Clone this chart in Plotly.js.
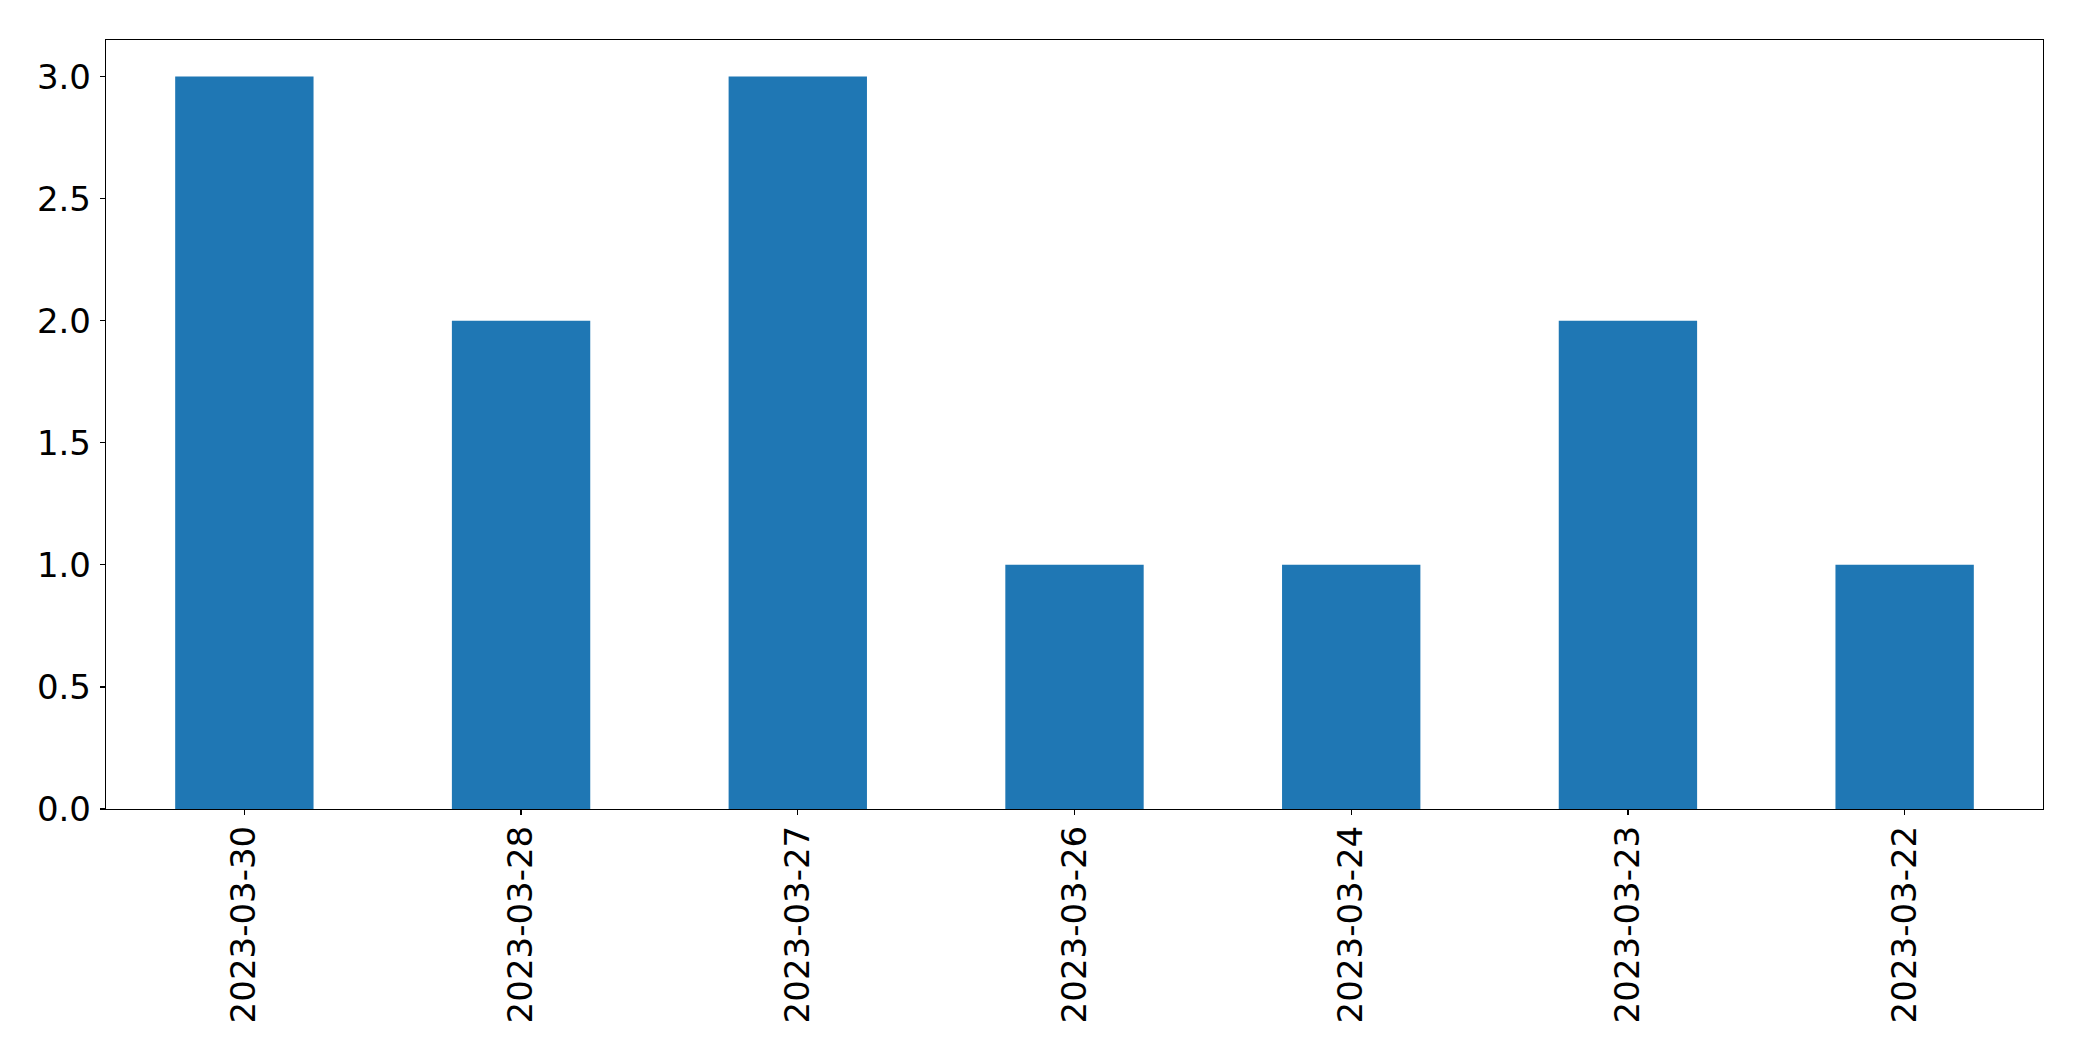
<!DOCTYPE html>
<html>
<head>
<meta charset="utf-8">
<script src="https://cdn.plot.ly/plotly-3.0.1.min.js"></script>
<style>html,body{margin:0;padding:0;background:#fff;}#chart{width:2082px;height:1061px;}</style>
</head>
<body>
<div id="chart"></div>
<script>
const categories = ["2023-03-30", "2023-03-28", "2023-03-27", "2023-03-26", "2023-03-24", "2023-03-23", "2023-03-22"];
const values = [3, 2, 3, 1, 1, 2, 1];
const yTickVals = [0, 0.5, 1, 1.5, 2, 2.5, 3];
const yTickText = ["0.0", "0.5", "1.0", "1.5", "2.0", "2.5", "3.0"];

const trace = {
  type: "bar",
  x: categories,
  y: values,
  width: 0.5,
  marker: {color: "#1f77b4", line: {width: 0}},
  hoverinfo: "x+y"
};

const axisCommon = {
  showline: true,
  linecolor: "#000",
  linewidth: 1.2,
  mirror: true,
  ticks: "outside",
  ticklen: 5,
  tickwidth: 1.2,
  tickcolor: "#000",
  showgrid: false,
  zeroline: false,
  tickfont: {family: "DejaVu Sans", size: 34, color: "#000"}
};

const layout = {
  width: 2082,
  height: 1061,
  paper_bgcolor: "#fff",
  plot_bgcolor: "#fff",
  margin: {l: 105.5, r: 39, t: 39.5, b: 252, pad: 0},
  showlegend: false,
  font: {family: "DejaVu Sans", color: "#000"},
  xaxis: Object.assign({}, axisCommon, {
    type: "category",
    range: [-0.5, 6.5],
    tickangle: -90,
    ticklabelstandoff: -3
  }),
  yaxis: Object.assign({}, axisCommon, {
    range: [0, 3.15],
    tickvals: yTickVals,
    ticktext: yTickText,
    ticklabelstandoff: 2
  })
};

Plotly.newPlot("chart", [trace], layout, {staticPlot: true, displayModeBar: false});
</script>
</body>
</html>
